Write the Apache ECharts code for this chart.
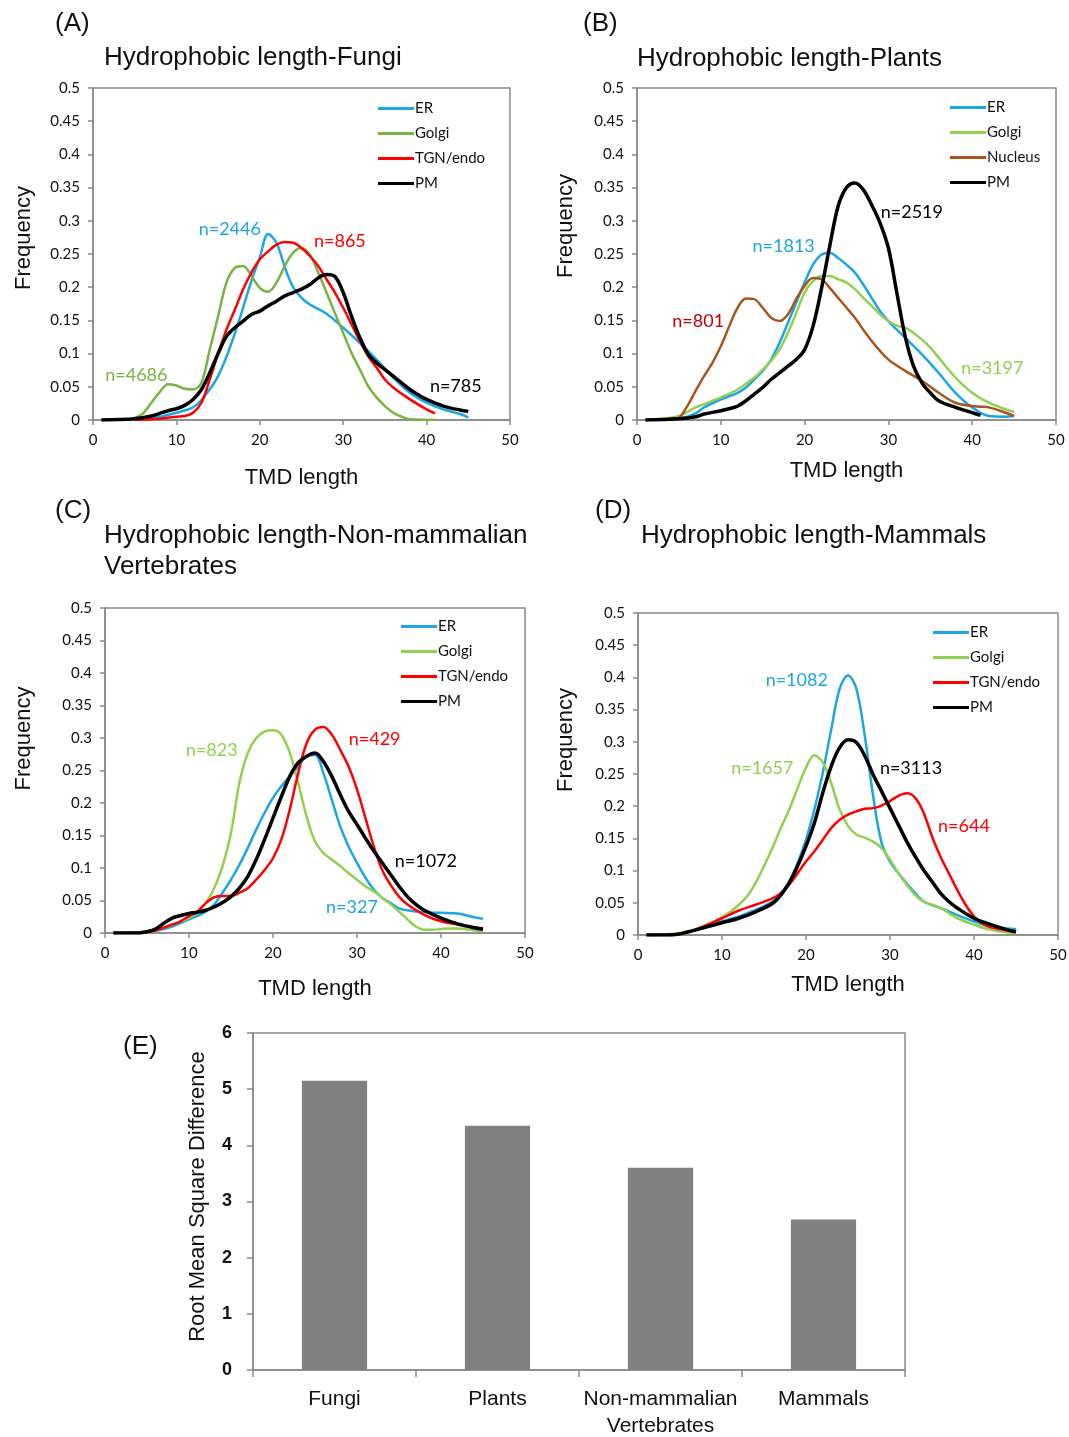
<!DOCTYPE html>
<html><head><meta charset="utf-8">
<script src="https://cdn.jsdelivr.net/npm/echarts@6/dist/echarts.min.js"></script>
<style>html,body{margin:0;padding:0;background:#fff}#c{width:1069px;height:1437px}</style>
</head><body><div id="c"></div><script>
// ---------- DATA ----------
// Panel A: Fungi  ([TMD length, frequency])
const A_ER = [[1,0],[5,0.001],[8,0.005],[10,0.011],[12,0.019],[13,0.03],[15,0.066],[17,0.13],[19,0.21],[20,0.245],[21,0.28],[22,0.267],[23,0.23],[24,0.2],[25,0.184],[26,0.174],[28,0.16],[30,0.139],[32,0.116],[34,0.091],[36,0.064],[38,0.041],[40,0.026],[42,0.016],[44,0.009],[45,0.004]];
const A_Golgi = [[1,0],[4,0],[5,0.003],[6,0.01],[7,0.026],[8,0.042],[9,0.054],[10,0.052],[11,0.047],[12,0.046],[13,0.056],[14,0.106],[15,0.156],[16,0.207],[17,0.229],[18,0.232],[19,0.217],[20,0.199],[21,0.193],[22,0.207],[23,0.232],[24,0.252],[25,0.259],[26,0.249],[27,0.222],[28,0.192],[29,0.161],[30,0.131],[31,0.101],[32,0.076],[33,0.051],[34,0.034],[35,0.021],[36,0.011],[37,0.005],[38,0.001],[41,0]];
const A_TGN = [[5,0],[8,0.002],[10,0.005],[11,0.006],[12,0.011],[13,0.026],[14,0.061],[15,0.1],[16,0.136],[17,0.166],[18,0.197],[19,0.222],[20,0.242],[21,0.254],[22,0.264],[23,0.268],[24,0.267],[25,0.259],[26,0.247],[27,0.232],[28,0.212],[29,0.192],[30,0.169],[31,0.144],[32,0.119],[33,0.096],[34,0.079],[35,0.061],[36,0.049],[38,0.031],[40,0.016],[41,0.01]];
const A_PM = [[1,0],[5,0.002],[7,0.006],[8,0.01],[9,0.014],[10,0.017],[11,0.022],[12,0.031],[13,0.046],[14,0.071],[15,0.1],[16,0.126],[17,0.139],[18,0.149],[19,0.159],[20,0.164],[21,0.172],[22,0.179],[23,0.187],[24,0.192],[25,0.197],[26,0.204],[27,0.214],[28,0.219],[29,0.216],[30,0.192],[31,0.156],[32,0.124],[33,0.099],[34,0.086],[35,0.076],[36,0.066],[37,0.056],[38,0.046],[39,0.038],[40,0.031],[42,0.021],[44,0.015],[45,0.013]];
// Panel B: Plants
const B_ER = [[1,0],[5,0.002],[7,0.01],[8,0.019],[10,0.031],[12,0.041],[13,0.049],[14,0.061],[15,0.074],[16,0.091],[17,0.116],[18,0.146],[19,0.177],[20,0.207],[21,0.234],[22,0.249],[23,0.252],[24,0.244],[25,0.234],[26,0.222],[27,0.204],[28,0.184],[29,0.164],[30,0.149],[31,0.136],[32,0.124],[34,0.099],[36,0.071],[38,0.041],[40,0.019],[42,0.006],[44,0.005],[45,0.006]];
const B_Golgi = [[1,0],[3,0.002],[5,0.006],[7,0.019],[8,0.024],[10,0.034],[12,0.046],[14,0.064],[15,0.076],[16,0.089],[17,0.106],[18,0.131],[19,0.161],[20,0.192],[21,0.209],[22,0.217],[23,0.217],[24,0.212],[25,0.207],[26,0.197],[27,0.184],[28,0.172],[29,0.159],[30,0.149],[31,0.142],[32,0.139],[33,0.131],[34,0.121],[35,0.109],[36,0.094],[38,0.064],[40,0.041],[42,0.026],[44,0.016],[45,0.012]];
const B_Nucleus = [[1,0],[4,0],[5,0.003],[6,0.021],[7,0.044],[8,0.066],[9,0.086],[10,0.111],[11,0.141],[12,0.169],[13,0.183],[14,0.182],[15,0.169],[16,0.154],[17,0.149],[18,0.159],[19,0.182],[20,0.202],[21,0.214],[22,0.212],[23,0.199],[24,0.184],[25,0.169],[26,0.154],[27,0.136],[28,0.119],[29,0.104],[30,0.091],[31,0.082],[32,0.074],[34,0.059],[36,0.041],[38,0.026],[40,0.021],[41,0.02],[42,0.019],[44,0.011],[45,0.006]];
const B_PM = [[1,0],[5,0.002],[7,0.005],[8,0.009],[10,0.014],[12,0.021],[13,0.029],[14,0.039],[15,0.049],[16,0.061],[17,0.071],[18,0.081],[19,0.091],[20,0.106],[21,0.141],[22,0.197],[23,0.262],[24,0.322],[25,0.35],[26,0.357],[27,0.347],[28,0.324],[29,0.297],[30,0.259],[31,0.192],[32,0.126],[33,0.081],[34,0.056],[35,0.041],[36,0.029],[38,0.019],[40,0.011],[41,0.007]];
// Panel C: Non-mammalian vertebrates
const C_ER = [[1,0],[4,0],[6,0.003],[8,0.01],[10,0.021],[12,0.033],[13,0.044],[14,0.062],[15,0.082],[16,0.105],[17,0.131],[18,0.159],[19,0.185],[20,0.208],[21,0.226],[22,0.241],[23,0.256],[24,0.272],[25,0.274],[26,0.246],[27,0.205],[28,0.164],[29,0.133],[30,0.108],[31,0.085],[32,0.067],[33,0.054],[34,0.046],[35,0.038],[36,0.035],[38,0.032],[40,0.031],[42,0.03],[44,0.024],[45,0.022]];
const C_Golgi = [[1,0],[5,0.001],[7,0.008],[9,0.018],[10,0.023],[11,0.031],[12,0.046],[13,0.069],[14,0.103],[15,0.154],[16,0.231],[17,0.277],[18,0.3],[19,0.31],[20,0.312],[21,0.305],[22,0.277],[23,0.231],[24,0.179],[25,0.141],[26,0.123],[27,0.113],[28,0.103],[29,0.092],[30,0.082],[31,0.072],[32,0.064],[33,0.054],[34,0.044],[35,0.033],[36,0.021],[37,0.01],[38,0.005],[39,0.005],[40,0.006],[41,0.007],[42,0.007],[44,0.004],[45,0.003]];
const C_TGN = [[1,0],[4,0],[5,0.001],[6,0.004],[8,0.013],[9,0.018],[10,0.026],[11,0.033],[12,0.046],[13,0.055],[14,0.057],[15,0.057],[16,0.062],[17,0.069],[18,0.082],[19,0.097],[20,0.115],[21,0.144],[22,0.19],[23,0.246],[24,0.292],[25,0.313],[26,0.317],[27,0.305],[28,0.282],[29,0.256],[30,0.221],[31,0.177],[32,0.133],[33,0.097],[34,0.074],[35,0.056],[36,0.044],[38,0.028],[40,0.018],[42,0.013],[44,0.008],[45,0.005]];
const C_PM = [[1,0],[4,0],[5,0.002],[6,0.006],[7,0.015],[8,0.023],[9,0.027],[10,0.03],[11,0.032],[12,0.035],[13,0.04],[14,0.047],[15,0.056],[16,0.069],[17,0.087],[18,0.113],[19,0.144],[20,0.177],[21,0.21],[22,0.241],[23,0.262],[24,0.272],[25,0.277],[26,0.264],[27,0.241],[28,0.213],[29,0.187],[30,0.167],[31,0.146],[32,0.126],[33,0.108],[34,0.09],[35,0.072],[36,0.056],[37,0.044],[38,0.035],[40,0.023],[42,0.014],[44,0.008],[45,0.006]];
// Panel D: Mammals
const D_ER = [[1,0],[4,0],[6,0.005],[8,0.013],[10,0.021],[12,0.029],[14,0.039],[16,0.052],[17,0.065],[18,0.083],[19,0.112],[20,0.148],[21,0.195],[22,0.252],[23,0.319],[24,0.382],[25,0.403],[26,0.382],[27,0.309],[28,0.215],[29,0.143],[30,0.114],[31,0.096],[32,0.08],[33,0.065],[34,0.052],[36,0.042],[38,0.031],[40,0.021],[42,0.013],[44,0.01],[45,0.009]];
const D_Golgi = [[1,0],[5,0.003],[7,0.01],[9,0.021],[10,0.028],[11,0.036],[12,0.047],[13,0.06],[14,0.081],[15,0.107],[16,0.135],[17,0.166],[18,0.195],[19,0.228],[20,0.26],[21,0.279],[22,0.268],[23,0.236],[24,0.195],[25,0.169],[26,0.156],[27,0.151],[28,0.145],[29,0.135],[30,0.117],[31,0.096],[32,0.078],[33,0.062],[34,0.052],[35,0.047],[36,0.042],[37,0.034],[38,0.026],[40,0.016],[42,0.008],[44,0.004],[45,0.003]];
const D_TGN = [[1,0],[5,0.002],[7,0.009],[8,0.014],[10,0.026],[12,0.038],[14,0.047],[16,0.057],[17,0.065],[18,0.078],[19,0.096],[20,0.114],[21,0.13],[22,0.148],[23,0.166],[24,0.179],[25,0.187],[26,0.192],[27,0.196],[28,0.197],[29,0.201],[30,0.208],[31,0.216],[32,0.22],[33,0.213],[34,0.19],[35,0.153],[36,0.122],[37,0.096],[38,0.07],[39,0.047],[40,0.029],[41,0.018],[42,0.012],[44,0.007],[45,0.005]];
const D_PM = [[1,0],[4,0],[6,0.005],[8,0.012],[10,0.019],[12,0.026],[14,0.036],[16,0.049],[17,0.062],[18,0.081],[19,0.107],[20,0.138],[21,0.174],[22,0.221],[23,0.262],[24,0.291],[25,0.303],[26,0.299],[27,0.278],[28,0.249],[29,0.223],[30,0.197],[31,0.171],[32,0.145],[33,0.122],[34,0.101],[35,0.083],[36,0.065],[37,0.052],[38,0.042],[40,0.026],[42,0.016],[44,0.008],[45,0.005]];
// sample-size annotations: [x, y, text]
const A_n = {ER:[16.4,0.288,'n=2446'], Golgi:[5.2,0.068,'n=4686'], TGN:[29.6,0.27,'n=865'], PM:[43.5,0.051,'n=785']};
const B_n = {ER:[17.5,0.262,'n=1813'], Golgi:[42.4,0.078,'n=3197'], Nucleus:[7.3,0.149,'n=801'], PM:[32.8,0.313,'n=2519']};
const C_n = {ER:[29.4,0.04,'n=327'], Golgi:[12.7,0.282,'n=823'], TGN:[32.1,0.298,'n=429'], PM:[38.2,0.111,'n=1072']};
const D_n = {ER:[18.9,0.396,'n=1082'], Golgi:[14.8,0.259,'n=1657'], TGN:[38.8,0.169,'n=644'], PM:[32.5,0.259,'n=3113']};
// Panel E
const E_categories = ['Fungi', 'Plants', 'Non-mammalian\nVertebrates', 'Mammals'];
const E_values = [5.15, 4.35, 3.6, 2.68];
const freqTicks = {min:0, max:0.5, interval:0.05};
const tmdTicks = {min:0, max:50, interval:10};

// ---------- STYLE / LAYOUT ----------
const COL = {ER:'#1CA6E6', GolgiA:'#79B443', Golgi:'#92D050', TGN:'#FF0000', PM:'#000000', Nucleus:'#A9561E'};
const GRAY = '#8a8a8a';
const tickFont = 'Lato';
const arial = 'Liberation Sans';

const grids = [
  {left:93, top:88, width:417, height:332},
  {left:637, top:88, width:419, height:332},
  {left:105, top:608, width:420, height:325},
  {left:638, top:613, width:420, height:322},
  {left:253, top:1033, width:652, height:337}
].map(g => Object.assign({show:true, borderColor:GRAY, borderWidth:1.5, backgroundColor:'transparent', outerBoundsMode:'none'}, g));

const xNameGap = [47, 40, 45, 39];
const yNameGap = [58, 60, 70, 61];
const yNameShift = [32, 56, 64, 68];

const xAxes = [], yAxes = [];
for (let i = 0; i < 4; i++) {
  xAxes.push({type:'value', gridIndex:i, min:tmdTicks.min, max:tmdTicks.max, interval:tmdTicks.interval,
    name:'TMD length', nameLocation:'middle', nameGap:xNameGap[i],
    nameTextStyle:{fontFamily:arial, fontSize:22, color:'#111'},
    axisLine:{show:true, lineStyle:{color:GRAY, width:1.5}},
    axisTick:{show:true, length:5, inside:false, lineStyle:{color:GRAY, width:1.5}},
    axisLabel:{margin:13, fontFamily:tickFont, fontSize:15, color:'#111'},
    splitLine:{show:false}});
  yAxes.push({type:'value', gridIndex:i, min:freqTicks.min, max:freqTicks.max, interval:freqTicks.interval,
    name:'Frequency', nameLocation:'middle', nameGap:yNameGap[i],
    nameTextStyle:{fontFamily:arial, fontSize:22, color:'#111', padding:[0,0,0,yNameShift[i]]},
    axisLine:{show:true, lineStyle:{color:GRAY, width:1.5}},
    axisTick:{show:true, length:5, inside:false, lineStyle:{color:GRAY, width:1.5}},
    axisLabel:{margin:13, fontFamily:tickFont, fontSize:15, color:'#111'},
    splitLine:{show:false}});
}
xAxes.push({type:'category', gridIndex:4, data:E_categories,
  axisLine:{show:true, lineStyle:{color:GRAY, width:1.5}},
  axisTick:{show:true, length:7, interval:0, lineStyle:{color:GRAY, width:1.5}},
  axisLabel:{margin:16, interval:0, fontFamily:arial, fontSize:21, lineHeight:27, color:'#111'}});
yAxes.push({type:'value', gridIndex:4, min:0, max:6, interval:1,
  name:'Root Mean Square Difference', nameLocation:'middle', nameGap:44,
  nameTextStyle:{fontFamily:arial, fontSize:22, color:'#111', padding:[0,0,0,10]},
  axisLine:{show:true, lineStyle:{color:GRAY, width:1.5}},
  axisTick:{show:true, length:6, lineStyle:{color:GRAY, width:1.5}},
  axisLabel:{margin:21, fontFamily:arial, fontWeight:'bold', fontSize:18, color:'#111'},
  splitLine:{show:false}});

const series = [];
function addLine(panel, label, data, color, width, ann, annColor) {
  const s = {type:'line', name:panel + ':' + label, xAxisIndex:'ABCD'.indexOf(panel), yAxisIndex:'ABCD'.indexOf(panel),
    data:data, smooth:0.35, showSymbol:false, symbol:'none', color:color,
    lineStyle:{color:color, width:width}, z:3, silent:true};
  if (ann) {
    s.markPoint = {symbol:'circle', symbolSize:1, itemStyle:{color:'rgba(0,0,0,0)'}, silent:true,
      label:{show:true, position:'inside', formatter:ann[2], color:annColor || color, fontFamily:tickFont, fontSize:18},
      data:[{coord:[ann[0], ann[1]]}]};
  }
  series.push(s);
}
addLine('A','ER',A_ER,COL.ER,2.5,A_n.ER);
addLine('A','Golgi',A_Golgi,COL.GolgiA,2.5,A_n.Golgi);
addLine('A','TGN/endo',A_TGN,COL.TGN,2.5,A_n.TGN);
addLine('A','PM',A_PM,COL.PM,3.5,A_n.PM);
addLine('B','ER',B_ER,COL.ER,2.5,B_n.ER);
addLine('B','Golgi',B_Golgi,COL.Golgi,2.5,B_n.Golgi);
addLine('B','Nucleus',B_Nucleus,COL.Nucleus,2.5,B_n.Nucleus,'#C00000');
addLine('B','PM',B_PM,COL.PM,3.5,B_n.PM);
addLine('C','ER',C_ER,COL.ER,2.5,C_n.ER);
addLine('C','Golgi',C_Golgi,COL.Golgi,2.5,C_n.Golgi);
addLine('C','TGN/endo',C_TGN,COL.TGN,2.5,C_n.TGN);
addLine('C','PM',C_PM,COL.PM,3.5,C_n.PM);
addLine('D','ER',D_ER,COL.ER,2.5,D_n.ER);
addLine('D','Golgi',D_Golgi,COL.Golgi,2.5,D_n.Golgi);
addLine('D','TGN/endo',D_TGN,COL.TGN,2.5,D_n.TGN);
addLine('D','PM',D_PM,COL.PM,3.5,D_n.PM);
series.push({type:'bar', name:'RMSD', xAxisIndex:4, yAxisIndex:4, data:E_values, barWidth:'40%',
  itemStyle:{color:'#808080'}, silent:true});

function legendFor(panel, labels, left, top) {
  return {orient:'vertical', left:left, top:top, itemWidth:36, itemHeight:3, itemGap:10, icon:'rect',
    selectedMode:false, padding:0,
    data:labels.map(l => panel + ':' + l),
    formatter: n => n.split(':')[1],
    textStyle:{fontFamily:tickFont, fontSize:15, color:'#111', padding:[0,0,0,-4]}};
}
const legends = [
  legendFor('A', ['ER','Golgi','TGN/endo','PM'], 378, 101),
  legendFor('B', ['ER','Golgi','Nucleus','PM'], 950, 100),
  legendFor('C', ['ER','Golgi','TGN/endo','PM'], 401, 619),
  legendFor('D', ['ER','Golgi','TGN/endo','PM'], 933, 625)
];

const T = (text, left, top, size, lh) => ({text:text, left:left, top:top, padding:0,
  textStyle:{fontFamily:arial, fontSize:size, fontWeight:'normal', color:'#111', lineHeight:lh || size + 4}});
const titles = [
  T('(A)', 55, 9, 26, 30), T('Hydrophobic length-Fungi', 104, 43, 26, 30),
  T('(B)', 583, 9, 26, 30), T('Hydrophobic length-Plants', 637, 44, 26, 30),
  T('(C)', 55, 496, 26, 30), T('Hydrophobic length-Non-mammalian\nVertebrates', 104, 520, 26, 31),
  T('(D)', 595, 496, 26, 30), T('Hydrophobic length-Mammals', 641, 521, 26, 30),
  T('(E)', 123, 1032, 26, 30)
];

const option = {animation:false, backgroundColor:'#fff', title:titles, legend:legends,
  grid:grids, xAxis:xAxes, yAxis:yAxes, series:series};
const chart = echarts.init(document.getElementById('c'), null, {renderer:'canvas'});
chart.setOption(option);
</script></body></html>
